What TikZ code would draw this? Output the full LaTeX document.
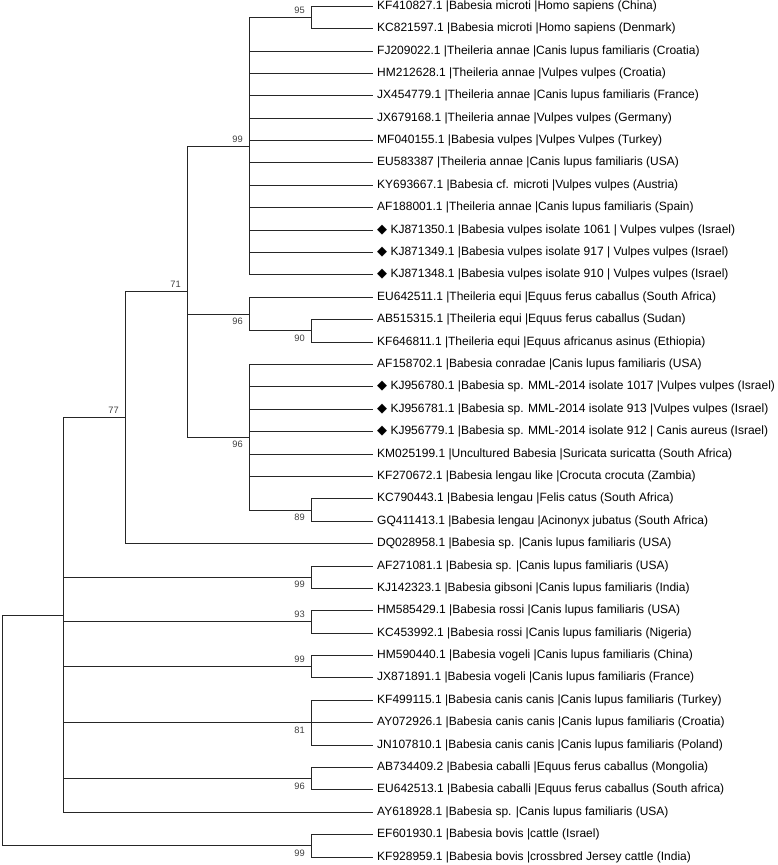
\documentclass[tikz,border=0pt]{standalone}
\usepackage{fontspec}
\setmainfont{Liberation Sans}
\newfontfamily\symfont{DejaVu Sans}
\newcommand{\mk}{{\symfont\fontsize{13}{13}\selectfont ◆}}

\begin{document}
\begin{tikzpicture}[x=1pt, y=-1pt,
  br/.style={draw=black!85, line width=0.9pt},
  leaf/.style={anchor=west, inner xsep=4.5pt, inner ysep=0pt, font=\fontsize{12}{14}\selectfont,
               text height=9pt, text depth=3pt},
  bs/.style={anchor=east, inner sep=0pt, xshift=-6pt, font=\fontsize{9.3}{10}\selectfont, text=black!75},
  bsup/.style={bs, yshift=7.3pt},
  bsdn/.style={bs, yshift=-7.3pt},
]
\useasboundingbox (0,0) rectangle (778,865);

% Leaves
\node[leaf] (l1)  at (372.5,6.2)   {KF410827.1 |Babesia microti |Homo sapiens (China)};
\node[leaf] (l2)  at (372.5,28.6)  {KC821597.1 |Babesia microti |Homo sapiens (Denmark)};
\node[leaf] (l3)  at (372.5,51.0)  {FJ209022.1 |Theileria annae |Canis lupus familiaris (Croatia)};
\node[leaf] (l4)  at (372.5,73.4)  {HM212628.1 |Theileria annae |Vulpes vulpes (Croatia)};
\node[leaf] (l5)  at (372.5,95.8)  {JX454779.1 |Theileria annae |Canis lupus familiaris (France)};
\node[leaf] (l6)  at (372.5,118.2) {JX679168.1 |Theileria annae |Vulpes vulpes (Germany)};
\node[leaf] (l7)  at (372.5,140.5) {MF040155.1 |Babesia vulpes |Vulpes Vulpes (Turkey)};
\node[leaf] (l8)  at (372.5,162.9) {EU583387 |Theileria annae |Canis lupus familiaris (USA)};
\node[leaf] (l9)  at (372.5,185.3) {KY693667.1 |Babesia cf. microti |Vulpes vulpes (Austria)};
\node[leaf] (l10) at (372.5,207.7) {AF188001.1 |Theileria annae |Canis lupus familiaris (Spain)};
\node[leaf] (l11) at (372.5,230.1) {\mk\ KJ871350.1 |Babesia vulpes isolate 1061 | Vulpes vulpes (Israel)};
\node[leaf] (l12) at (372.5,252.5) {\mk\ KJ871349.1 |Babesia vulpes isolate 917 | Vulpes vulpes (Israel)};
\node[leaf] (l13) at (372.5,274.9) {\mk\ KJ871348.1 |Babesia vulpes isolate 910 | Vulpes vulpes (Israel)};
\node[leaf] (l14) at (372.5,297.3) {EU642511.1 |Theileria equi |Equus ferus caballus (South Africa)};
\node[leaf] (l15) at (372.5,319.7) {AB515315.1 |Theileria equi |Equus ferus caballus (Sudan)};
\node[leaf] (l16) at (372.5,342.1) {KF646811.1 |Theileria equi |Equus africanus asinus (Ethiopia)};
\node[leaf] (l17) at (372.5,364.4) {AF158702.1 |Babesia conradae |Canis lupus familiaris (USA)};
\node[leaf] (l18) at (372.5,386.8) {\mk\ KJ956780.1 |Babesia sp. MML-2014 isolate 1017 |Vulpes vulpes (Israel)};
\node[leaf] (l19) at (372.5,409.2) {\mk\ KJ956781.1 |Babesia sp. MML-2014 isolate 913 |Vulpes vulpes (Israel)};
\node[leaf] (l20) at (372.5,431.6) {\mk\ KJ956779.1 |Babesia sp. MML-2014 isolate 912 | Canis aureus (Israel)};
\node[leaf] (l21) at (372.5,454.0) {KM025199.1 |Uncultured Babesia |Suricata suricatta (South Africa)};
\node[leaf] (l22) at (372.5,476.4) {KF270672.1 |Babesia lengau like |Crocuta crocuta (Zambia)};
\node[leaf] (l23) at (372.5,498.8) {KC790443.1 |Babesia lengau |Felis catus (South Africa)};
\node[leaf] (l24) at (372.5,521.2) {GQ411413.1 |Babesia lengau |Acinonyx jubatus (South Africa)};
\node[leaf] (l25) at (372.5,543.6) {DQ028958.1 |Babesia sp. |Canis lupus familiaris (USA)};
\node[leaf] (l26) at (372.5,566.0) {AF271081.1 |Babesia sp. |Canis lupus familiaris (USA)};
\node[leaf] (l27) at (372.5,588.4) {KJ142323.1 |Babesia gibsoni |Canis lupus familiaris (India)};
\node[leaf] (l28) at (372.5,610.7) {HM585429.1 |Babesia rossi |Canis lupus familiaris (USA)};
\node[leaf] (l29) at (372.5,633.1) {KC453992.1 |Babesia rossi |Canis lupus familiaris (Nigeria)};
\node[leaf] (l30) at (372.5,655.5) {HM590440.1 |Babesia vogeli |Canis lupus familiaris (China)};
\node[leaf] (l31) at (372.5,677.9) {JX871891.1 |Babesia vogeli |Canis lupus familiaris (France)};
\node[leaf] (l32) at (372.5,700.3) {KF499115.1 |Babesia canis canis |Canis lupus familiaris (Turkey)};
\node[leaf] (l33) at (372.5,722.7) {AY072926.1 |Babesia canis canis |Canis lupus familiaris (Croatia)};
\node[leaf] (l34) at (372.5,745.1) {JN107810.1 |Babesia canis canis |Canis lupus familiaris (Poland)};
\node[leaf] (l35) at (372.5,767.5) {AB734409.2 |Babesia caballi |Equus ferus caballus (Mongolia)};
\node[leaf] (l36) at (372.5,789.9) {EU642513.1 |Babesia caballi |Equus ferus caballus (South africa)};
\node[leaf] (l37) at (372.5,812.3) {AY618928.1 |Babesia sp. |Canis lupus familiaris (USA)};
\node[leaf] (l38) at (372.5,834.7) {EF601930.1 |Babesia bovis |cattle (Israel)};
\node[leaf] (l39) at (372.5,857.0) {KF928959.1 |Babesia bovis |crossbred Jersey cattle (India)};

% Internal nodes
\coordinate (n95)  at (311,17.4);
\coordinate (n99a) at (249,146.2);
\coordinate (n90)  at (311,330.9);
\coordinate (n96a) at (249,314.1);
\coordinate (n89)  at (311,510.0);
\coordinate (n96b) at (249,437.2);
\coordinate (n71)  at (187,291.7);
\coordinate (n77)  at (125,417.6);
\coordinate (n99b) at (311,577.2);
\coordinate (n93)  at (311,621.9);
\coordinate (n99c) at (311,666.7);
\coordinate (n81)  at (311,722.7);
\coordinate (n96c) at (311,778.7);
\coordinate (nA)   at (63,615.0);
\coordinate (n99d) at (311,845.9);
\coordinate (root) at (2,730.4);

% Branches
\draw[br] (n95) |- (l1);  \draw[br] (n95) |- (l2);
\draw[br] (n99a) |- (n95);
\foreach \i in {3,...,13} \draw[br] (n99a) |- (l\i);
\draw[br] (n90) |- (l15); \draw[br] (n90) |- (l16);
\draw[br] (n96a) |- (l14); \draw[br] (n96a) |- (n90);
\draw[br] (n89) |- (l23); \draw[br] (n89) |- (l24);
\foreach \i in {17,...,22} \draw[br] (n96b) |- (l\i);
\draw[br] (n96b) |- (n89);
\draw[br] (n71) |- (n99a); \draw[br] (n71) |- (n96a); \draw[br] (n71) |- (n96b);
\draw[br] (n77) |- (n71); \draw[br] (n77) |- (l25);
\draw[br] (n99b) |- (l26); \draw[br] (n99b) |- (l27);
\draw[br] (n93) |- (l28); \draw[br] (n93) |- (l29);
\draw[br] (n99c) |- (l30); \draw[br] (n99c) |- (l31);
\draw[br] (n81) |- (l32); \draw[br] (n81) |- (l33); \draw[br] (n81) |- (l34);
\draw[br] (n96c) |- (l35); \draw[br] (n96c) |- (l36);
\draw[br] (nA) |- (n77); \draw[br] (nA) |- (n99b); \draw[br] (nA) |- (n93);
\draw[br] (nA) |- (n99c); \draw[br] (nA) |- (n81); \draw[br] (nA) |- (n96c);
\draw[br] (nA) |- (l37);
\draw[br] (n99d) |- (l38); \draw[br] (n99d) |- (l39);
\draw[br] (root) |- (nA); \draw[br] (root) |- (n99d);

% Bootstrap values
\node[bsup] (b95)  at (n95)  {95};
\node[bsup] (b99a) at (n99a) {99};
\node[bsdn] (b96a) at (n96a) {96};
\node[bsdn] (b90)  at (n90)  {90};
\node[bsdn] (b96b) at (n96b) {96};
\node[bsdn] (b89)  at (n89)  {89};
\node[bsup] (b71)  at (n71)  {71};
\node[bsup] (b77)  at (n77)  {77};
\node[bsdn] (b99b) at (n99b) {99};
\node[bsup] (b93)  at (n93)  {93};
\node[bsup] (b99c) at (n99c) {99};
\node[bsdn] (b81)  at (n81)  {81};
\node[bsdn] (b96c) at (n96c) {96};
\node[bsdn] (b99d) at (n99d) {99};
\end{tikzpicture}
\end{document}
